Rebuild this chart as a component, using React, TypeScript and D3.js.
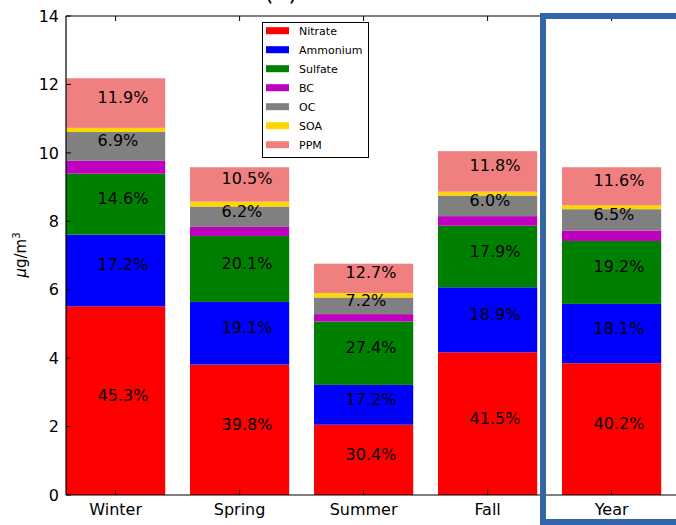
import React from 'react';
import * as d3 from 'd3';

const categories = ['Winter', 'Spring', 'Summer', 'Fall', 'Year'];
const totals = [12.18, 9.58, 6.76, 10.05, 9.58];
const nitratePct = [45.3, 39.8, 30.4, 41.5, 40.2];
const ammoniumPct = [17.2, 19.1, 17.2, 18.9, 18.1];
const sulfatePct = [14.6, 20.1, 27.4, 17.9, 19.2];
const bcPct = [3.1, 2.8, 3.2, 2.8, 3.2];
const ocPct = [6.9, 6.2, 7.2, 6.0, 6.5];
const soaPct = [1.0, 1.5, 1.9, 1.1, 1.2];
const ppmPct = [11.9, 10.5, 12.7, 11.8, 11.6];
const yTicks = [0, 2, 4, 6, 8, 10, 12, 14];

const series = [
  { name: 'Nitrate', pct: nitratePct, color: '#ff0000', label: true },
  { name: 'Ammonium', pct: ammoniumPct, color: '#0000ff', label: true },
  { name: 'Sulfate', pct: sulfatePct, color: '#008000', label: true },
  { name: 'BC', pct: bcPct, color: '#bf00bf', label: false },
  { name: 'OC', pct: ocPct, color: '#808080', label: true },
  { name: 'SOA', pct: soaPct, color: '#ffd700', label: false },
  { name: 'PPM', pct: ppmPct, color: '#f08080', label: true },
];

const W = 676;
const H = 525;
const FONT = 'DejaVu Sans, sans-serif';

export default function App() {
  const x = d3.scaleLinear().domain([-0.4, 4.6]).range([66, 686]);
  const y = d3.scaleLinear().domain([0, 14]).range([495, 16]);
  const barW = x(0.8) - x(0);

  const rows = categories.map((c, i) => {
    const obj: any = { cat: c };
    series.forEach((s) => { obj[s.name] = (totals[i] * s.pct[i]) / 100; });
    return obj;
  });
  const stack = d3.stack().keys(series.map((s) => s.name))(rows as any);

  return (
    <svg width={W} height={H} style={{ position: 'absolute', left: 0, top: 0, background: '#fff' }} fontFamily={FONT}>
      <rect x={0} y={0} width={W} height={H} fill="#fff" />
      <text x={281} y={0} fontSize={24} textAnchor="middle" fill="#000">(a)</text>
      {stack.map((layer, si) => (
        <g key={series[si].name}>
          {layer.map((d, i) => (
            <rect key={i} x={x(i) - barW / 2} y={y(d[1])} width={barW} height={y(d[0]) - y(d[1])} fill={series[si].color} />
          ))}
        </g>
      ))}
      {stack.map((layer, si) =>
        series[si].label
          ? layer.map((d, i) => (
              <text key={`${si}-${i}`} x={x(i - 0.145)} y={y((d[0] + d[1]) / 2)} fontSize={16} fill="#000">
                {series[si].pct[i].toFixed(1)}%
              </text>
            ))
          : null
      )}
      {/* spines */}
      <line x1={66} x2={66} y1={16} y2={495} stroke="#000" strokeWidth={1.2} />
      <line x1={66} x2={W} y1={495} y2={495} stroke="#000" strokeWidth={1.2} />
      <line x1={66} x2={W} y1={16} y2={16} stroke="#000" strokeWidth={1.2} />
      {yTicks.map((t) => (
        <g key={t}>
          <line x1={66} x2={71} y1={y(t)} y2={y(t)} stroke="#000" strokeWidth={1} />
          <text x={59} y={y(t)} dy="0.36em" fontSize={16} textAnchor="end" fill="#000">{t}</text>
        </g>
      ))}
      {categories.map((c, i) => (
        <g key={c}>
          <line x1={x(i)} x2={x(i)} y1={495} y2={490} stroke="#000" strokeWidth={1} />
          <line x1={x(i)} x2={x(i)} y1={16} y2={21} stroke="#000" strokeWidth={1} />
          <text x={x(i)} y={515} fontSize={16} textAnchor="middle" fill="#000">{c}</text>
        </g>
      ))}
      <text transform="translate(26,255) rotate(-90)" fontSize={15} textAnchor="middle" fill="#000">
        <tspan fontStyle="italic">μ</tspan>g/m<tspan dy={-6} fontSize={10}>3</tspan>
      </text>
      {/* legend */}
      <rect x={262.5} y={22.5} width={106} height={135} fill="#fff" stroke="#000" strokeWidth={1} />
      {series.map((s, k) => (
        <g key={s.name}>
          <rect x={266} y={30.7 + 19 * k - 3.5} width={23} height={7} fill={s.color} />
          <text x={299} y={30.7 + 19 * k} dy="0.36em" fontSize={11} fill="#000">{s.name}</text>
        </g>
      ))}
      {/* highlight frame */}
      <rect x={543} y={16} width={200} height={506} fill="none" stroke="#3465a9" strokeWidth={6} />
    </svg>
  );
}
